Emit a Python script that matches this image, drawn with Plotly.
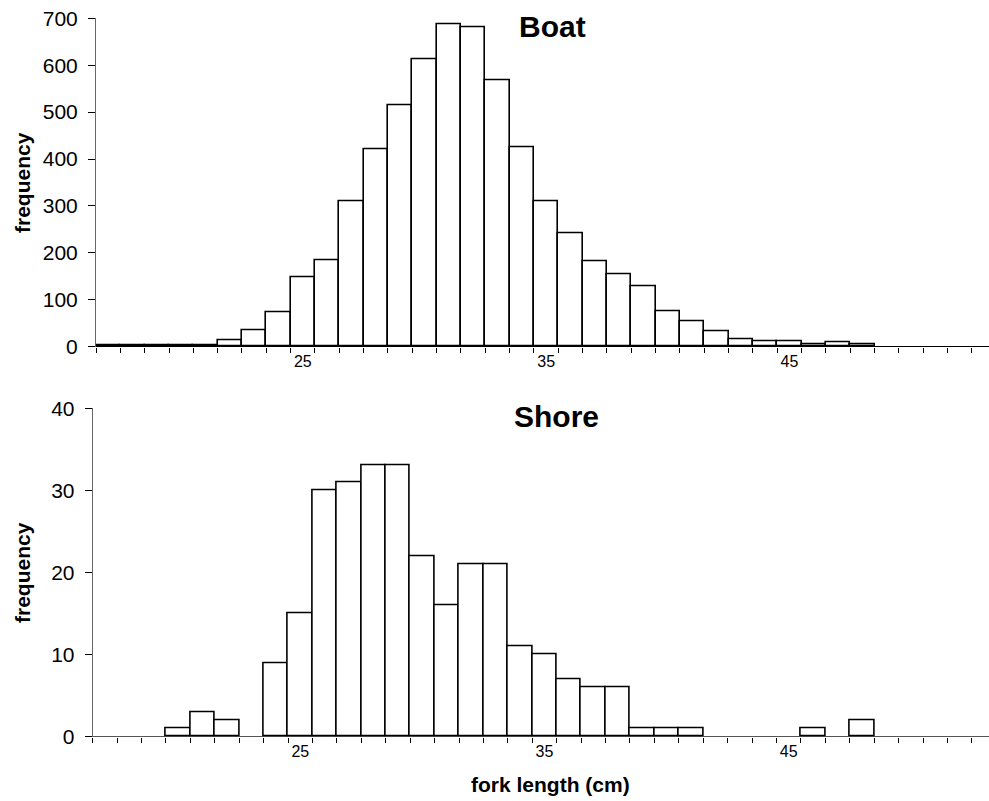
import plotly.graph_objects as go

# Fork length classes (cm), one bar per 1 cm class
lengths = list(range(17, 53))

boat_counts = [2, 3, 3, 3, 4, 13, 35, 73, 148, 185, 309, 421, 515, 613, 688, 681,
               568, 426, 309, 242, 181, 155, 129, 76, 54, 32, 16, 12, 12, 5, 9, 5,
               0, 0, 0, 0]

shore_counts = [0, 0, 0, 1, 3, 2, 0, 9, 15, 30, 31, 33, 33, 22, 16, 21,
                21, 11, 10, 7, 6, 6, 1, 1, 1, 0, 0, 0, 0, 1, 0, 2,
                0, 0, 0, 0]

label_ticks = [25, 35, 45]

FONT = "Liberation Sans, Arial, sans-serif"
W, H = 989, 801


def shown(vals):
    # empty classes draw nothing (no outline on the baseline)
    return [v if v else None for v in vals]


bar_style = dict(marker=dict(color="white", line=dict(color="black", width=1.6)),
                 width=1.0, showlegend=False, hoverinfo="x+y")

fig = go.Figure()
fig.add_trace(go.Bar(x=lengths, y=shown(boat_counts), xaxis="x", yaxis="y", **bar_style))
fig.add_trace(go.Bar(x=lengths, y=shown(shore_counts), xaxis="x2", yaxis="y2", **bar_style))


def xaxis_cfg(dom_left, anchor):
    return dict(
        domain=[dom_left / W, 1], anchor=anchor, range=[16.5, 53.2],
        tickmode="array", tickvals=label_ticks, ticks="",
        tickfont=dict(family=FONT, size=16, color="black"),
        showgrid=False, zeroline=False, showline=False,
        minor=dict(tickmode="linear", tick0=16.5, dtick=1, ticks="outside",
                   ticklen=5, tickcolor="black", tickwidth=1, showgrid=False),
        ticklabelstandoff=3, automargin=False, fixedrange=True,
    )


def yaxis_cfg(top_px, bottom_px, anchor, ymax, dtick, base_color):
    return dict(
        domain=[1 - bottom_px / H, 1 - top_px / H], anchor=anchor,
        range=[0, ymax], tick0=0, dtick=dtick,
        ticks="outside", ticklen=7, tickcolor="black", tickwidth=1,
        tickfont=dict(family=FONT, size=21, color="black"),
        showgrid=False, showline=True, linecolor="#666666", linewidth=1,
        zeroline=True, zerolinecolor=base_color, zerolinewidth=1.3,
        ticklabelstandoff=6, automargin=False, fixedrange=True,
    )


fig.update_layout(
    template="none",
    width=W, height=H,
    margin=dict(l=0, r=0, t=0, b=0, pad=0, autoexpand=False),
    paper_bgcolor="white", plot_bgcolor="white",
    bargap=0,
    xaxis=xaxis_cfg(96, "y"),
    yaxis=yaxis_cfg(18.3, 346.7, "x", 700, 100, "black"),
    xaxis2=xaxis_cfg(92.7, "y2"),
    yaxis2=yaxis_cfg(408.3, 736.7, "x2", 40, 10, "#555555"),
    font=dict(family=FONT, color="black"),
)

title_font = dict(family=FONT, size=30, color="black")
label_font = dict(family=FONT, size=21, color="black")

annotations = [
    dict(text="<b>Boat</b>", x=552 / W, y=1 - 27 / H, font=title_font),
    dict(text="<b>Shore</b>", x=556 / W, y=1 - 416 / H, font=title_font),
    dict(text="<b>frequency</b>", x=22 / W, y=1 - 183 / H, font=label_font, textangle=-90),
    dict(text="<b>frequency</b>", x=22 / W, y=1 - 573 / H, font=label_font, textangle=-90),
    dict(text="<b>fork length (cm)</b>", x=550 / W, y=1 - 784 / H, font=label_font),
]
for a in annotations:
    a.update(xref="paper", yref="paper", showarrow=False, xanchor="center", yanchor="middle")
fig.update_layout(annotations=annotations)

fig.write_html("out.html", config={"displayModeBar": False})
